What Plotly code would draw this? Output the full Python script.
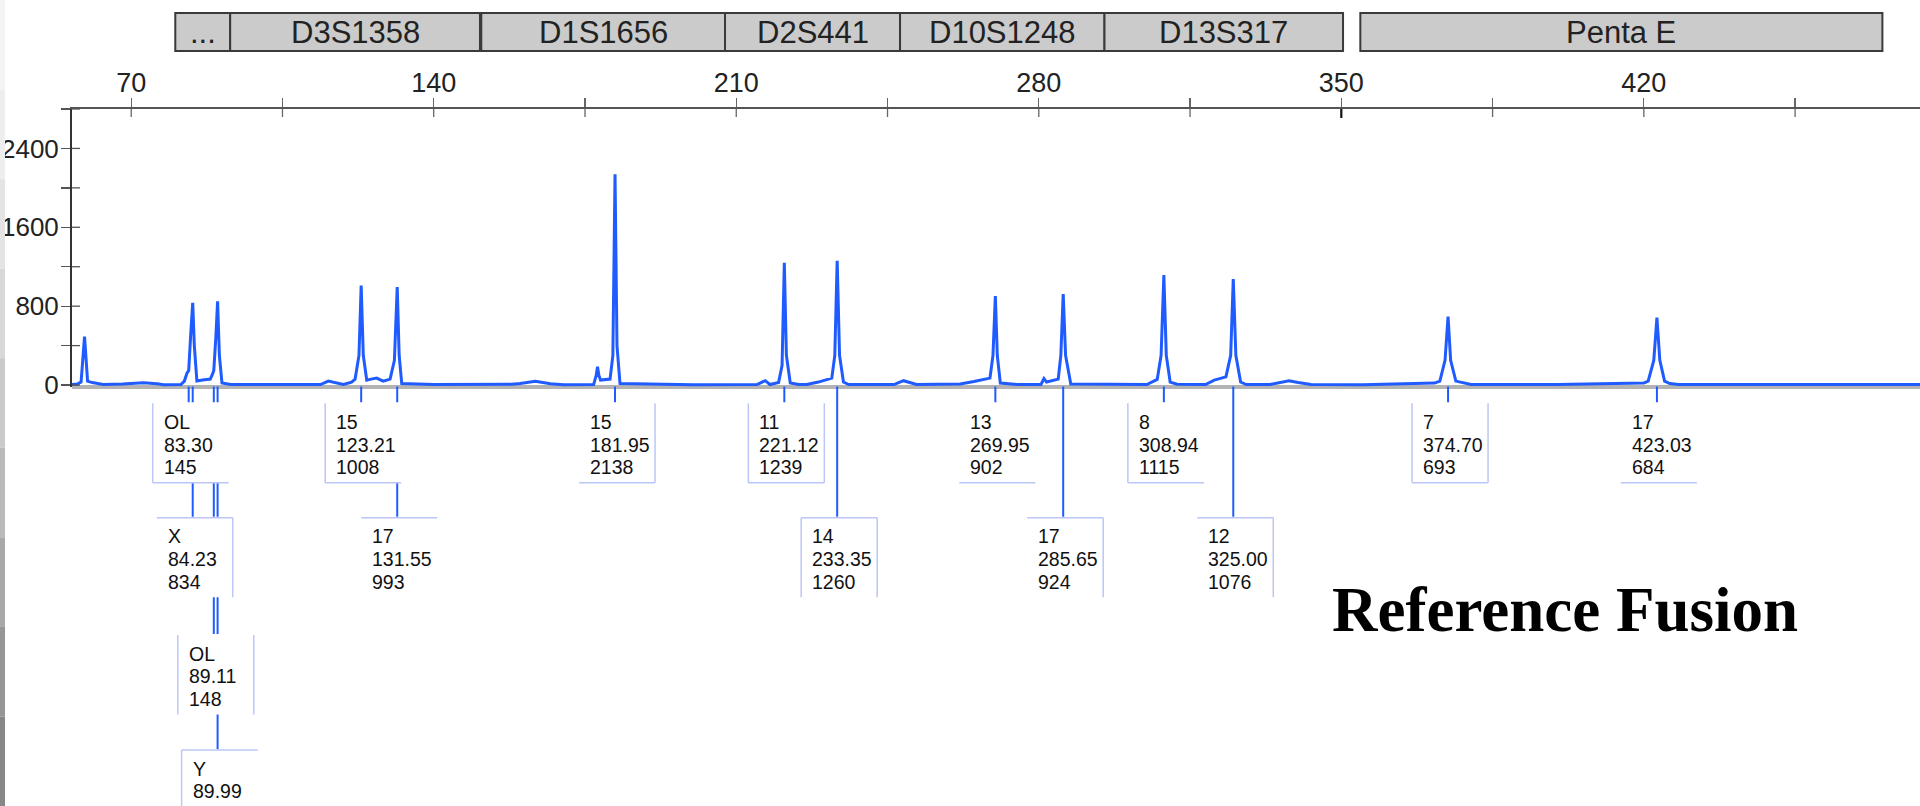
import plotly.graph_objects as go

# ---------------- data ----------------
# electropherogram trace (size in bp, signal in RFU)
trace_bp = [56.3, 57.5, 58.4, 58.9, 59.2, 59.5, 59.9, 61.0, 63.5, 68.0, 72.8, 76.0, 77.5,
            81.5, 82.3, 82.9, 83.3, 83.75, 84.23, 84.6, 85.2, 86.5, 88.3, 88.9, 89.11, 89.6,
            89.99, 90.4, 91.0, 93.0, 110.0, 113.8, 115.6, 117.5, 119.1, 121.0, 121.8, 122.7,
            123.21, 123.7, 124.5, 125.5, 126.8, 128.3, 129.9, 130.9, 131.55, 132.0, 132.6,
            140.0, 155.0, 158.0, 160.0, 163.5, 167.0, 170.0, 177.0, 177.6, 177.9, 178.2, 178.6,
            180.8, 181.45, 181.95, 182.4, 183.1, 200.0, 214.8, 216.7, 217.8, 219.8, 220.6,
            221.12, 221.6, 222.5, 224.5, 226.3, 229.0, 232.1, 232.8, 233.35, 233.9, 234.8,
            236.0, 246.5, 248.7, 251.7, 258.0, 261.8, 265.0, 268.7, 269.4, 269.95, 270.4,
            271.1, 275.0, 280.5, 281.2, 281.8, 284.5, 285.1, 285.65, 286.2, 287.4, 295.0,
            305.0, 307.4, 308.3, 308.94, 309.5, 310.4, 312.0, 318.6, 320.6, 323.3, 324.4,
            325.0, 325.6, 326.7, 328.0, 333.5, 336.0, 337.9, 340.0, 343.0, 355.0, 371.6,
            372.8, 374.0, 374.7, 375.3, 376.5, 378.4, 380.0, 400.0, 420.0, 421.0, 422.3,
            423.03, 423.7, 424.8, 426.0, 428.0, 450.0, 484.0]
trace_rfu = [5, 10, 30, 300, 490, 300, 40, 25, 5, 10, 22, 12, 3,
             5, 40, 120, 145, 500, 834, 400, 40, 50, 60, 120, 148, 500,
             850, 300, 20, 5, 3, 5, 40, 20, 5, 30, 60, 300,
             1008, 300, 50, 60, 70, 40, 60, 250, 993, 300, 15,
             5, 5, 8, 15, 38, 12, 3, 5, 100, 186, 100, 50,
             60, 300, 2138, 400, 15, 3, 5, 44, 5, 25, 200,
             1239, 300, 20, 5, 5, 30, 70, 300, 1260, 300, 30,
             5, 5, 44, 5, 5, 10, 35, 70, 300, 902, 300,
             20, 5, 5, 65, 30, 60, 300, 924, 300, 10, 5,
             5, 57, 300, 1115, 300, 30, 8, 5, 50, 83, 300,
             1076, 300, 30, 5, 5, 25, 44, 25, 5, 3, 20,
             40, 250, 693, 250, 40, 20, 5, 5, 20, 40, 250,
             684, 250, 40, 15, 5, 5, 5]

# marker (locus) bins shown in the header
locus_names = ["...", "D3S1358", "D1S1656", "D2S441", "D10S1248", "D13S317", "Penta E"]
locus_start = [80.2, 92.9, 151.0, 207.4, 247.9, 295.2, 354.4]
locus_end = [92.9, 150.7, 207.4, 247.9, 295.2, 350.4, 475.2]

# allele calls
allele_calls = ["OL", "X", "OL", "Y", "15", "17", "15", "11", "14", "13", "17", "8", "12", "7", "17"]
allele_size = [83.30, 84.23, 89.11, 89.99, 123.21, 131.55, 181.95, 221.12, 233.35, 269.95,
               285.65, 308.94, 325.00, 374.70, 423.03]
allele_height = [145, 834, 148, None, 1008, 993, 2138, 1239, 1260, 902, 924, 1115, 1076, 693, 684]

# axis ticks
x_tickvals = [70, 140, 210, 280, 350, 420]
x_minorvals = [105, 175, 245, 315, 385, 455]
y_tickvals = [0, 800, 1600, 2400]
y_minorvals = [400, 1200, 2000, 2800]

title_text = "Reference Fusion"

# ---------------- layout helpers ----------------
W, H = 1920, 806
PL, PT, PB = 72, 109, 387            # plot area pixel edges (left, top, bottom)
XR = [56.3, 483.9]
YR = [-20, 2800]
PXU = (W - PL) / (XR[1] - XR[0])     # pixels per bp


def yp(ypix):
    return (PB - ypix) / (PB - PT)


def xpp(xpix):
    return (xpix - PL) / (W - PL)


def dbp(dpx):
    return dpx / PXU


SANS = "Liberation Sans, Arial, Helvetica, sans-serif"
BLUE = "#1f5bff"
BORDER = "#bcc6f7"

# label layout (row index per call, and which box borders are visible)
label_row = [0, 1, 2, 3, 0, 1, 0, 0, 1, 0, 1, 0, 1, 0, 0]
label_sides = ["lb", "tr", "lr", "tl", "lb", "t", "rb", "lrb", "tlr", "b", "tr", "lb", "tr", "lrb", "b"]
row_top = [403.3, 517.7, 635.0, 750.0]
BOX_H = 79.5
BOX_L, BOX_R, TXT_DX = -36, 40, 9

fig = go.Figure()
fig.add_trace(go.Scatter(x=trace_bp, y=trace_rfu, mode="lines",
                         line=dict(color=BLUE, width=3), hoverinfo="skip", showlegend=False))

shapes = []
annotations = []

# left screenshot border shading
strip_cols = ["#f4f4f4", "#eeeeee", "#e4e4e4", "#d8d8d8", "#cacaca", "#bababa", "#a8a8a8", "#969696", "#878787"]
n = len(strip_cols)
for i, c in enumerate(strip_cols):
    shapes.append(dict(type="rect", xref="paper", yref="paper", x0=xpp(0), x1=xpp(5),
                       y0=yp(H * (i + 1) / n), y1=yp(H * i / n), fillcolor=c, line=dict(width=0),
                       layer="above"))

# baseline band
shapes.append(dict(type="line", xref="paper", yref="paper", x0=0, x1=1, y0=yp(387), y1=yp(387),
                   line=dict(color="#b3b3b3", width=4), layer="below"))

# inner halves of the crossing ticks
for v in x_tickvals + x_minorvals:
    col, wd, ln = ("#111111", 2.2, 118) if v == 350 else ("#666666", 1.3, 117)
    shapes.append(dict(type="line", xref="x", yref="paper", x0=v, x1=v, y0=1, y1=yp(ln),
                       line=dict(color=col, width=wd), layer="above"))
for v in y_tickvals + y_minorvals:
    shapes.append(dict(type="line", xref="paper", yref="y", x0=0, x1=xpp(80), y0=v, y1=v,
                       line=dict(color="#555555", width=1.3), layer="above"))

# connectors from the baseline to the label boxes
for s, r in zip(allele_size, label_row):
    shapes.append(dict(type="line", xref="x", yref="paper", x0=s, x1=s, y0=yp(386.5), y1=yp(row_top[r]),
                       line=dict(color=BLUE, width=2), layer="above"))

# label boxes (white, drawn over connectors) and their visible borders
for s, r, sides in zip(allele_size, label_row, label_sides):
    x0, x1 = s + dbp(BOX_L), s + dbp(BOX_R)
    top, bot = row_top[r], row_top[r] + BOX_H
    shapes.append(dict(type="rect", xref="x", yref="paper", x0=x0, x1=x1, y0=yp(bot), y1=yp(top - 1),
                       fillcolor="white", line=dict(width=0), layer="above"))
    seg = {"l": (x0, x0, top, bot), "r": (x1, x1, top, bot), "t": (x0, x1, top, top), "b": (x0, x1, bot, bot)}
    for k in sides:
        a, b, c, d = seg[k]
        shapes.append(dict(type="line", xref="x", yref="paper", x0=a, x1=b, y0=yp(c), y1=yp(d),
                           line=dict(color=BORDER, width=1.5), layer="above"))

# label texts
for call, s, h, r in zip(allele_calls, allele_size, allele_height, label_row):
    lines = [call, f"{s:.2f}"] + ([str(h)] if h is not None else [])
    for j, t in enumerate(lines):
        annotations.append(dict(text=t, xref="x", yref="paper", x=s + dbp(BOX_L + TXT_DX),
                                y=yp(row_top[r] + 18.5 + 22.8 * j), xanchor="left", yanchor="middle",
                                showarrow=False, font=dict(family=SANS, size=19.5, color="#111111")))

# header locus boxes
for name, a, b in zip(locus_names, locus_start, locus_end):
    shapes.append(dict(type="rect", xref="x", yref="paper", x0=a, x1=b, y0=yp(51), y1=yp(13),
                       fillcolor="#cbcbcb", line=dict(color="#3a3a3a", width=2), layer="above"))
    annotations.append(dict(text=name, xref="x", yref="paper", x=(a + b) / 2, y=yp(33),
                            xanchor="center", yanchor="middle", showarrow=False,
                            font=dict(family=SANS, size=31, color="#222222")))

# sample title
annotations.append(dict(text=f"<b>{title_text}</b>", xref="paper", yref="paper", x=xpp(1565), y=yp(610),
                        xanchor="center", yanchor="middle", showarrow=False,
                        font=dict(family="Liberation Serif, Times New Roman, serif", size=63, color="#000000")))

fig.update_layout(
    width=W, height=H,
    margin=dict(l=PL, r=0, t=PT, b=H - PB, pad=0),
    paper_bgcolor="white", plot_bgcolor="white",
    showlegend=False,
    shapes=shapes, annotations=annotations,
    xaxis=dict(range=XR, side="top", tickvals=x_tickvals, ticktext=[str(v) for v in x_tickvals],
               ticks="outside", ticklen=9, tickwidth=1.3, tickcolor="#666666", ticklabelstandoff=-5,
               minor=dict(tickvals=x_minorvals, ticks="outside", ticklen=9, tickwidth=1.3, tickcolor="#666666"),
               showline=True, linecolor="#555555", linewidth=2, showgrid=False, zeroline=False,
               tickfont=dict(family=SANS, size=27, color="#222222"), automargin=False, fixedrange=True),
    yaxis=dict(range=YR, tickvals=y_tickvals, ticktext=[str(v) for v in y_tickvals],
               ticks="outside", ticklen=9, tickwidth=1.3, tickcolor="#555555", ticklabelstandoff=-3,
               minor=dict(tickvals=y_minorvals, ticks="outside", ticklen=9, tickwidth=1.3, tickcolor="#555555"),
               showline=True, linecolor="#333333", linewidth=2, showgrid=False, zeroline=False,
               tickfont=dict(family=SANS, size=26, color="#222222"), automargin=False, fixedrange=True),
)

fig.write_html("out.html", config={"displayModeBar": False, "staticPlot": True},
               post_script="document.body.style.margin='0';")
